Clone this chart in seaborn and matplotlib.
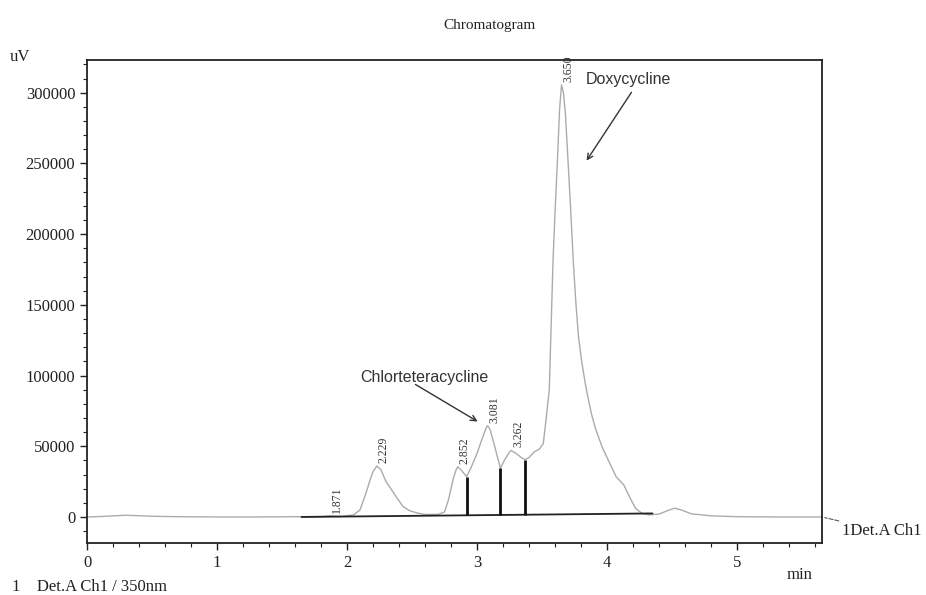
import numpy as np
import pandas as pd
import matplotlib
matplotlib.use("Agg")
import matplotlib.pyplot as plt
import matplotlib.ticker as mticker
import seaborn as sns

# ---------------- data ----------------
time_min = [0.00, 0.10, 0.20, 0.30, 0.40, 0.50, 0.70, 1.00, 1.30, 1.60, 1.80, 1.87, 1.95,
            2.05, 2.10, 2.15, 2.18, 2.20, 2.229, 2.26, 2.30, 2.33, 2.38, 2.43, 2.48, 2.54, 2.60,
            2.70, 2.75, 2.78, 2.82, 2.84, 2.852, 2.88, 2.92, 2.95, 3.00, 3.05, 3.07, 3.081, 3.10, 3.13,
            3.15, 3.18, 3.21, 3.25, 3.262, 3.30, 3.34, 3.37, 3.40, 3.44, 3.48, 3.51, 3.53, 3.556,
            3.585, 3.60, 3.62, 3.635, 3.65, 3.665, 3.68, 3.70, 3.72, 3.74, 3.76, 3.78, 3.805, 3.83,
            3.85, 3.88, 3.91, 3.96, 4.00, 4.07, 4.13, 4.18, 4.22, 4.27, 4.32, 4.40, 4.48, 4.52,
            4.57, 4.65, 4.80, 5.00, 5.30, 5.65]
signal_uv = [0, 300, 800, 1200, 900, 500, 200, 0, 0, 200, 300, 800, 300,
             1500, 5000, 18000, 27000, 32000, 36000, 33500, 25000, 21000, 14000, 7500, 4500, 2800, 1800,
             1800, 3500, 12000, 28000, 33500, 35500, 33000, 28500, 34000, 45000, 58000, 63000, 64500, 62000, 52000,
             45000, 34500, 40000, 46000, 47000, 45000, 42000, 40500, 42000, 46000, 48000, 52000, 68000, 90000,
             182000, 215000, 255000, 288000, 305500, 300000, 285000, 252000, 218000, 182000, 152000, 128000, 110000, 96000,
             86000, 73000, 63000, 50000, 42000, 28500, 22500, 13000, 6000, 2500, 1500, 2000, 5000, 6200,
             5000, 2200, 800, 200, 0, 0]

peak_times = [1.871, 2.229, 2.852, 3.081, 3.262, 3.650]
peak_labels = ["1.871", "2.229", "2.852", "3.081", "3.262", "3.650"]

baseline_t = [1.65, 4.35]
baseline_v = [0, 2500]
drop_times = [2.92, 3.18, 3.37]

x_ticks = [0, 1, 2, 3, 4, 5]
y_ticks = [0, 50000, 100000, 150000, 200000, 250000, 300000]

df = pd.DataFrame({"time": time_min, "signal": signal_uv})

# ---------------- style ----------------
sns.set_style("ticks")
plt.rcParams["font.family"] = ["Liberation Serif", "DejaVu Serif"]

fig = plt.figure(figsize=(9.26, 5.95), dpi=100)
ax = fig.add_axes([0.094, 0.0874, 0.7937, 0.8118])

sns.lineplot(data=df, x="time", y="signal", ax=ax, color="#ababab", linewidth=1.0,
             sort=False, estimator=None)

# integration baseline and drop lines
ax.plot(baseline_t, baseline_v, color="#222222", linewidth=1.3)
drop_base = np.interp(drop_times, baseline_t, baseline_v)
drop_top = np.interp(drop_times, time_min, signal_uv)
ax.vlines(drop_times, drop_base, drop_top, color="#111111", linewidth=2.0)

# peak labels
peak_heights = np.interp(peak_times, time_min, signal_uv)
for t, h, lab in zip(peak_times, peak_heights, peak_labels):
    ax.annotate(lab, xy=(t, h), xytext=(7, 3), textcoords="offset pixels",
                rotation=90, ha="center", va="bottom", fontsize=8.5, color="#333333")

# compound annotations
ax.text(2.596, 98300, "Chlorteteracycline", family="Liberation Sans", fontsize=11.5,
        ha="center", va="center", color="#333333")
ax.annotate("", xy=(3.023, 66500), xytext=(2.508, 94700),
            arrowprops=dict(arrowstyle="->", color="#333333", lw=1.0))
ax.text(4.165, 309000, "Doxycycline", family="Liberation Sans", fontsize=11.5,
        ha="center", va="center", color="#333333")
ax.annotate("", xy=(3.831, 250300), xytext=(4.2, 301900),
            arrowprops=dict(arrowstyle="->", color="#333333", lw=1.0))

# axes
ax.set_xlim(0, 5.654)
ax.set_ylim(-18400, 323100)
ax.set_xticks(x_ticks)
ax.set_yticks(y_ticks)
ax.xaxis.set_minor_locator(mticker.MultipleLocator(0.2))
ax.yaxis.set_minor_locator(mticker.MultipleLocator(10000))
ax.xaxis.set_major_formatter(mticker.StrMethodFormatter("{x:.0f}"))
ax.yaxis.set_major_formatter(mticker.StrMethodFormatter("{x:.0f}"))
ax.tick_params(which="major", direction="out", length=5, width=1.0, labelsize=12,
               colors="#222222")
ax.tick_params(which="minor", direction="out", length=3, width=0.8, colors="#222222")
ax.set_xlabel("")
ax.set_ylabel("")
for s in ax.spines.values():
    s.set_visible(True)
    s.set_linewidth(1.3)
    s.set_color("#222222")

# right-side channel label with dashed leader
ax.annotate("1Det.A Ch1", xy=(5.654, 0), xytext=(20, -14), textcoords="offset pixels",
            ha="left", va="center", fontsize=12, color="#222222", annotation_clip=False,
            arrowprops=dict(arrowstyle="-", linestyle="--", color="#555555", lw=0.8,
                            shrinkA=0, shrinkB=2))

fig.text(490 / 926, 1 - 25 / 595, "Chromatogram", ha="center", va="center", fontsize=11,
         color="#222222")
fig.text(10 / 926, 1 - 57 / 595, "uV", ha="left", va="center", fontsize=12, color="#222222")
fig.text(800 / 926, 1 - 575 / 595, "min", ha="center", va="center", fontsize=12,
         color="#222222")
fig.text(12 / 926, 1 - 587 / 595, "1    Det.A Ch1 / 350nm", ha="left", va="center",
         fontsize=12, color="#222222")

fig.savefig("out.png", dpi=100, facecolor="white")
